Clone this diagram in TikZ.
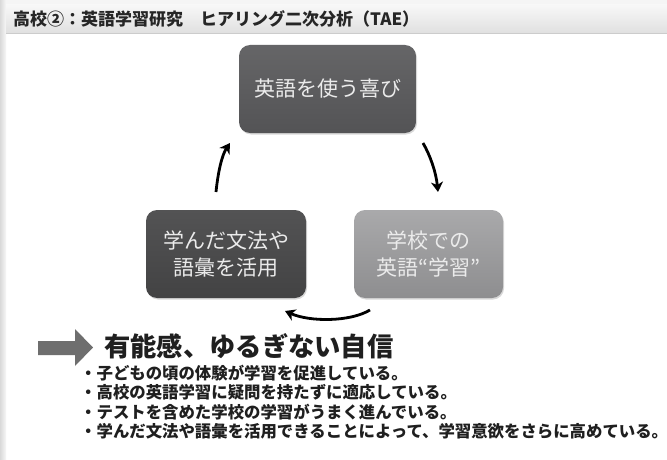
\documentclass[tikz,border=0pt]{standalone}
\usepackage{fontspec}
\newfontfamily\jp{Noto Sans CJK JP}
\usetikzlibrary{arrows.meta,shadows}
\definecolor{topbox}{HTML}{58585A}
\definecolor{leftbox}{HTML}{4A4A4B}
\definecolor{rightbox}{HTML}{9A9A9C}
\definecolor{bigarrow}{HTML}{6E6E6E}
\tikzset{
  cyclebox/.style={rounded corners=11pt, minimum width=#1, minimum height=88pt,
    text=white!92!black, font=\jp\fontsize{21}{27}\selectfont, align=center,
    inner sep=0pt, drop shadow={shadow xshift=1pt, shadow yshift=-1.5pt, opacity=0.3}},
  cyclearrow/.style={line width=2.8pt, -{Stealth[length=10pt,width=12pt,inset=3pt]}, black},
  bullet/.style={anchor=west, font=\jp\bfseries\fontsize{16.4}{18}\selectfont, inner sep=0pt, text=black!88}
}
\begin{document}
\begin{tikzpicture}[x=1pt,y=-1pt]
\useasboundingbox (0,0) rectangle (667,460);
\fill[white] (0,0) rectangle (667,460);
% left shadow strip
\shade[left color=gray!30, right color=gray!6] (0,0) rectangle (6,460);
% top strip
\fill[gray!8] (6,0) rectangle (667,5);
% header band
\shade[top color=gray!6, bottom color=gray!24] (6,5) rectangle (667,33);
\draw[gray!40] (6,33) -- (667,33);
\node[anchor=west, inner sep=0pt, font=\jp\bfseries\fontsize{17}{20}\selectfont, text=black!85] (title) at (13,19)
  {高校②：英語学習研究　ヒアリング二次分析（TAE）};

% boxes
\node[cyclebox=177pt, top color=topbox!92!white, bottom color=topbox!95!black] (joy) at (327.5,89) {英語を使う喜び};
\node[cyclebox=160pt, top color=leftbox!95!white, bottom color=leftbox!90!black] (use) at (226,254) {学んだ文法や\\語彙を活用};
\node[cyclebox=149pt, top color=rightbox!85!white, bottom color=rightbox!92!black] (school) at (428.5,254) {学校での\\英語“学習”};

% cycle arrows
\coordinate (a1s) at (216,192);
\coordinate (a1e) at (230,143);
\coordinate (a2s) at (423,143);
\coordinate (a2e) at (438,192);
\coordinate (a3s) at (370,310);
\coordinate (a3e) at (285,311);
\draw[cyclearrow] (a1s) .. controls (218,172) and (222,155) .. (a1e);
\draw[cyclearrow] (a2s) .. controls (430,155) and (436,172) .. (a2e);
\draw[cyclearrow] (a3s) .. controls (350,322) and (310,322) .. (a3e);

% big gray arrow
\fill[bigarrow] (38,341) -- (75,341) -- (75,329) -- (93,347.5) -- (75,366) -- (75,355) -- (38,355) -- cycle;
\node[anchor=west, inner sep=0pt, font=\jp\bfseries\fontsize{26.3}{28}\selectfont, text=black!88] (conf) at (104,346) {有能感、ゆるぎない自信};

% bullets
\node[bullet] (b1) at (80,373) {・子どもの頃の体験が学習を促進している。};
\node[bullet] (b2) at (80,392.5) {・高校の英語学習に疑問を持たずに適応している。};
\node[bullet] (b3) at (80,412) {・テストを含めた学校の学習がうまく進んでいる。};
\node[bullet] (b4) at (80,431) {・学んだ文法や語彙を活用できることによって、学習意欲をさらに高めている。};
\end{tikzpicture}
\end{document}
